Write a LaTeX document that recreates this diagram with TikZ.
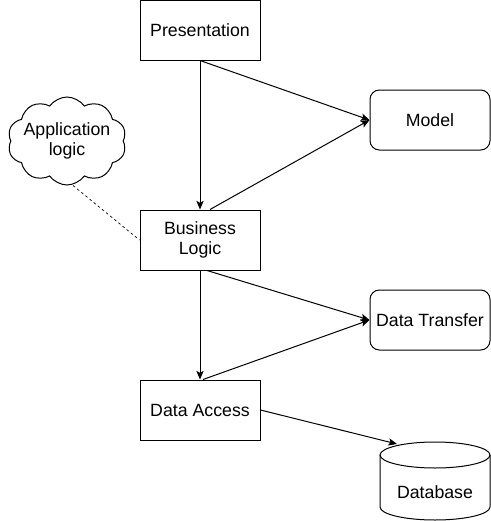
\documentclass[tikz,border=0pt]{standalone}
\usepackage{fontspec}
\setmainfont{Liberation Sans}
\usetikzlibrary{shapes.symbols,arrows.meta,calc}
\begin{document}
\begin{tikzpicture}[x=0.75pt,y=-0.75pt,
  font=\fontsize{13.3}{15}\selectfont,
  layer/.style={draw,line width=0.75pt,minimum width=90pt,minimum height=45pt,inner sep=0pt,align=center},
  dto/.style={layer,rounded corners=7pt},
  conn/.style={line width=0.75pt,-{Stealth[length=6.5pt,width=5.5pt,inset=1.5pt]}},
  note/.style={line width=0.5pt,dash pattern=on 2pt off 2pt}]
\useasboundingbox (0,0) rectangle (491,521);
\node[layer] (p) at (200,30) {Presentation};
\node[dto] (m) at (430,120) {Model};
\node[layer] (b) at (200,240) {Business\\Logic};
\node[dto] (t) at (430,320) {Data Transfer};
\node[layer] (a) at (200,410) {Data Access};
\node[cloud,draw,line width=0.75pt,cloud puffs=10,cloud puff arc=110,aspect=1.4,
      minimum width=89pt,minimum height=66pt,inner sep=0pt] (cl) at (67,141) {};
\node[align=center] (cltext) at (67,141) {Application\\logic};
% database cylinder
\draw[line width=0.75pt,fill=white] (380,455) -- (380,507)
   arc[start angle=180,end angle=0,x radius=55,y radius=13] -- (490,455);
\draw[line width=0.75pt] (435,455) ellipse[x radius=55,y radius=13];
\node (db) at (435,492) {Database};
\coordinate (dbtop) at (397,444);
% connectors
\draw[conn] (p.south) -- (b.north);
\draw[conn] (p.south) -- (m.west);
\draw[conn] ($(b.north)+(10,0)$) -- (m.west);
\draw[conn] (b.south) -- (a.north);
\draw[conn] ($(b.south)+(7,0)$) -- (t.west);
\draw[conn] ($(a.north)+(3,0)$) -- (t.west);
\draw[conn] (a.east) -- (dbtop);
\draw[note] ($(cl.south)+(6,0)$) -- (b.west);
\end{tikzpicture}
\end{document}
